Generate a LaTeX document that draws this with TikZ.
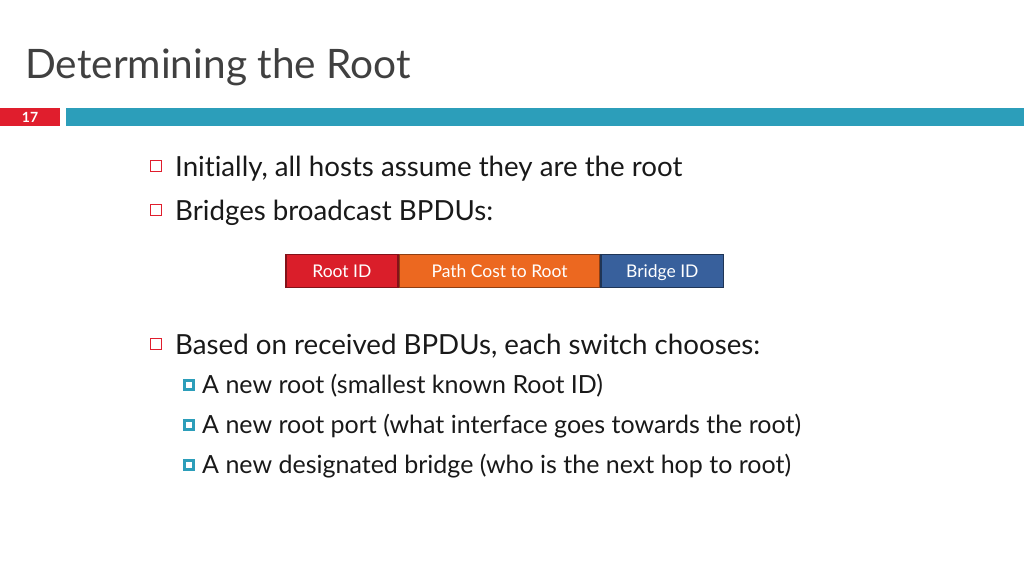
\documentclass[tikz,border=0pt]{standalone}
\usepackage{fontspec}
\setmainfont[Ligatures=NoCommon]{Lato}
\usepackage{xcolor}
\usetikzlibrary{positioning}
\definecolor{slred}{RGB}{224,30,45}
\definecolor{slteal}{RGB}{44,158,186}
\definecolor{fred}{RGB}{218,30,42}
\definecolor{fora}{RGB}{236,104,32}
\definecolor{fblue}{RGB}{56,96,156}
\tikzset{bul/.style={draw=slred,line width=1.1pt,minimum size=11pt,inner sep=0pt},
  sub/.style={draw=slteal,fill=white,line width=3.2pt,minimum size=9pt,inner sep=0pt},
  txt/.style={anchor=base west,inner sep=0pt,text=black!90,font=\fontsize{27.7}{32}\selectfont},
  stxt/.style={anchor=base west,inner sep=0pt,text=black!90,font=\fontsize{25}{28}\selectfont},
  fld/.style={draw,line width=1.6pt,minimum height=33pt,inner sep=0pt,text height=14.5pt,text depth=1.5pt,text=white,font=\fontsize{17.5}{20}\selectfont}}

\begin{document}
\begin{tikzpicture}[x=1pt,y=-1pt]
    \useasboundingbox (0,0) rectangle (1024,576);
    \node[anchor=base west,inner sep=0pt,text=black!75,font=\fontsize{40.6}{46}\selectfont] (title) at (25,78) {Determining the Root};
    \fill[slred] (0,108) rectangle (60,126);
    \node[text=white,font=\bfseries\fontsize{14}{16}\selectfont] (num) at (30,117) {17};
    \fill[slteal] (66,108) rectangle (1024,126);

    \node[bul] (b1) at (156,166) {};
    \node[txt] (t1) at (175,176) {Initially, all hosts assume they are the root};
    \node[bul] (b2) at (156,210) {};
    \node[txt] (t2) at (175,220) {Bridges broadcast BPDUs:};

    \node[fld,draw=fred!60!black,fill=fred,minimum width=112.2pt] (root) at (341.9,271) {Root ID};
    \node[fld,draw=fora!60!black,fill=fora,minimum width=200pt,right=0pt of root] (cost) {Path Cost to Root};
    \node[fld,draw=fblue!55!black,fill=fblue,minimum width=122.2pt,right=0pt of cost] (bid) {Bridge ID};

    \node[bul] (b3) at (156,344) {};
    \node[txt] (t3) at (175,354) {Based on received BPDUs, each switch chooses:};
    \node[sub] (s1) at (189,385) {};
    \node[stxt] (u1) at (202,393) {A new root (smallest known Root ID)};
    \node[sub] (s2) at (189,425) {};
    \node[stxt] (u2) at (202,433) {A new root port (what interface goes towards the root)};
    \node[sub] (s3) at (189,465) {};
    \node[stxt] (u3) at (202,473) {A new designated bridge (who is the next hop to root)};
\end{tikzpicture}
\end{document}
